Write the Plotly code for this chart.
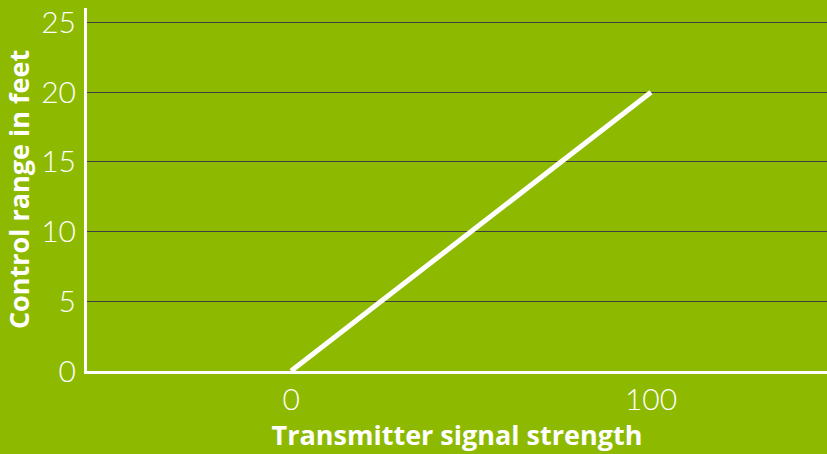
import plotly.graph_objects as go

# Control range vs transmitter signal strength
signal_strength = [0, 100]
control_range_ft = [0, 20]
y_ticks = [0, 5, 10, 15, 20, 25]
x_ticks = [0, 100]

bg = "#8DBA00"

fig = go.Figure()
fig.add_trace(go.Scatter(
    x=signal_strength, y=control_range_ft, mode="lines",
    line=dict(color="white", width=5), hoverinfo="skip", showlegend=False,
))

fig.update_layout(
    width=827, height=454,
    margin=dict(l=87, r=0, t=8, b=83),
    paper_bgcolor=bg, plot_bgcolor=bg,
    font=dict(family="Lato", color="white"),
    xaxis=dict(
        range=[-56.7, 148.9], tickvals=x_ticks, ticks="",
        showgrid=False, zeroline=False,
        showline=True, linecolor="white", linewidth=3,
        tickfont=dict(size=30, weight=300, color="white"),
        title=dict(text="Transmitter signal strength", standoff=12,
                   font=dict(family="Open Sans", size=27, weight=700, color="white")),
    ),
    yaxis=dict(
        range=[0, 26.04], tickvals=y_ticks, ticks="",
        showgrid=True, gridcolor="#3f3f3f", gridwidth=1,
        zeroline=False,
        showline=True, linecolor="white", linewidth=3,
        ticklabelstandoff=2,
        tickfont=dict(size=30, weight=300, color="white"),
        title=dict(text="Control range in feet", standoff=14,
                   font=dict(family="Open Sans", size=27, weight=700, color="white")),
    ),
)

fig.write_html("out.html")
